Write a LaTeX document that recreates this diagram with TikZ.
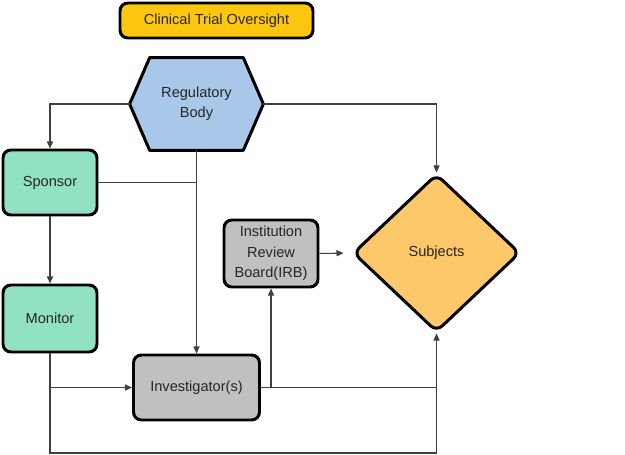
\documentclass[tikz,border=0pt]{standalone}
\usepackage{fontspec}
\setmainfont{Liberation Sans}
\usepackage{tikz}
\usetikzlibrary{arrows.meta,calc,shapes.geometric}
\definecolor{titleyellow}{HTML}{FDC70F}
\definecolor{regblue}{HTML}{A9C7E9}
\definecolor{boxgreen}{HTML}{91E2C3}
\definecolor{boxgray}{HTML}{C0C0C0}
\definecolor{subjorange}{HTML}{FDC86A}

\begin{document}
\begin{tikzpicture}[
	>={Triangle[length=4pt,width=3.5pt]},
	every node/.style={font=\fontsize{8.3}{11.6}\selectfont, text=black!85},
	box/.style={draw, line width=1.7pt, rounded corners=4.5pt, align=center, inner sep=0pt},
	link/.style={draw=black!75, line width=0.6pt}
	]
	\useasboundingbox (0,0) rectangle (12.5,-9.1);

	\node[box, fill=titleyellow, minimum width=38.6mm, minimum height=7mm] (title) at (4.33,-0.41) {Clinical Trial Oversight};

	% hexagon: text node, border drawn below
	\node[minimum width=26.6mm, minimum height=18.4mm, inner sep=0pt, align=center] (reg) at (3.93,-2.08) {Regulatory\\Body};
	\filldraw[fill=regblue, line width=1.7pt, line join=round] (reg.west) -- ($(reg.north west)+(0.4,0)$) -- ($(reg.north east)-(0.4,0)$) -- (reg.east) -- ($(reg.south east)-(0.4,0)$) -- ($(reg.south west)+(0.4,0)$) -- cycle;
	\node[align=center, inner sep=0pt] at (reg) {Regulatory\\Body};

	\node[box, fill=boxgreen, minimum width=18.8mm, minimum height=13mm] (spon) at (1.0,-3.65) {Sponsor};
	\node[box, fill=boxgreen, minimum width=18.8mm, minimum height=13.4mm] (mon) at (1.0,-6.37) {Monitor};
	\node[box, fill=boxgray, minimum width=25.2mm, minimum height=13mm] (inv) at (3.93,-7.75) {Investigator(s)};
	\node[box, fill=boxgray, minimum width=18.8mm, minimum height=13.4mm] (irb) at (5.42,-5.07) {Institution\\Review\\Board(IRB)};
	\node[box, diamond, fill=subjorange, minimum width=33.4mm, minimum height=31.6mm] (subj) at (8.73,-5.06) {Subjects};

	\coordinate (low) at (1.0,-9.06);

	\draw[link, ->] (reg.west) -| (spon.north);
	\draw[link, ->] (reg.east) -| (subj.north);
	\draw[link, ->] (reg.south) -- (inv.north);
	\draw[link] (spon.east) -- (spon.east -| reg.south);
	\draw[link, ->] (spon.south) -- (mon.north);
	\draw[link, ->] (mon.south |- inv.west) -- (inv.west);
	\draw[link, ->] (mon.south) -- (low) -| (subj.south);
	\draw[link] (inv.east) -- (inv.east -| subj.south);
	\draw[link, ->] (inv.east -| irb.south) -- (irb.south);
	\draw[link, ->, shorten >=0.16cm] (irb.east) -- (subj.west);
\end{tikzpicture}
\end{document}
